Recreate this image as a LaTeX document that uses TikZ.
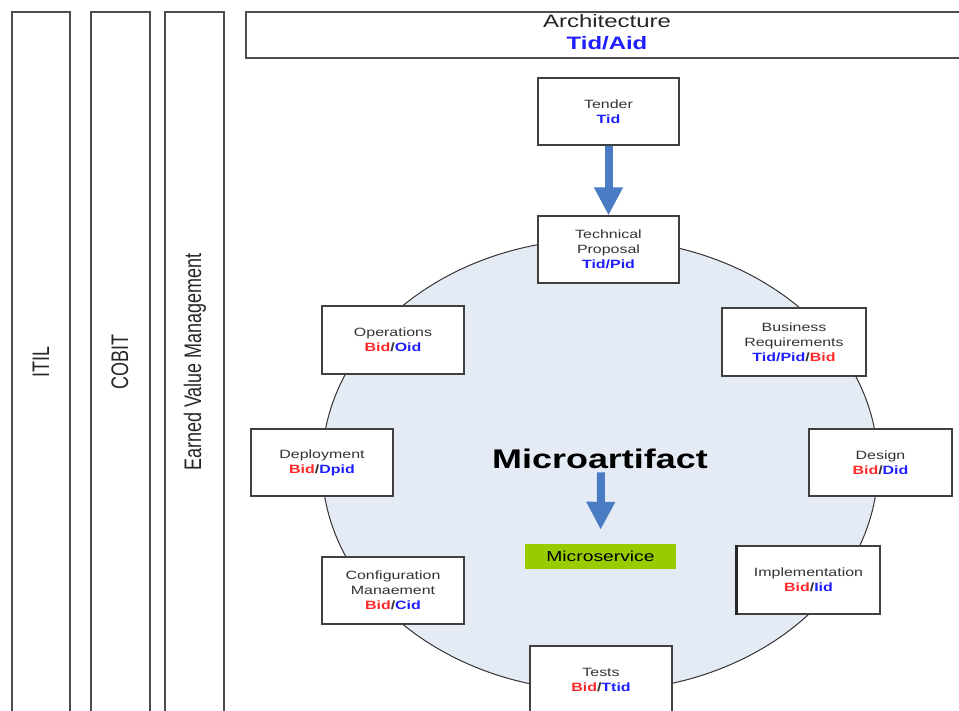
\documentclass[tikz,border=0pt]{standalone}
\usepackage{fontspec}
\setmainfont[FakeStretch=1.33]{Liberation Sans}
\newfontfamily\upsans{Liberation Sans}
\usetikzlibrary{arrows.meta}
\definecolor{idred}{RGB}{255,40,40}
\definecolor{idblue}{RGB}{30,30,255}
\definecolor{flowblue}{RGB}{74,124,196}
\definecolor{cloudfill}{RGB}{229,235,245}
\definecolor{svcgreen}{RGB}{153,204,0}
\newcommand{\redid}[1]{\textcolor{idred}{#1}}
\newcommand{\blueid}[1]{\textcolor{idblue}{#1}}
\begin{document}
\begin{tikzpicture}[x=1pt,y=-1pt,
  phase/.style={rectangle,draw=black!75,line width=1.2pt,fill=white,minimum width=142pt,
    minimum height=67pt,align=center,text=black!80,font=\fontsize{12}{15}\selectfont},
  band/.style={draw=black!70,line width=1.2pt},
  bandlabel/.style={rotate=90,text=black!85,font=\upsans\fontsize{18}{18}\selectfont},
  flow/.style={flowblue,line width=8pt,-{Triangle[width=27pt,length=28pt]}}]
\clip (0,0) rectangle (959,711);
% frameworks on the left
\draw[band] (12,12) rectangle (70,730);
\draw[band] (91,12) rectangle (150,730);
\draw[band] (165,12) rectangle (224,730);
\node[bandlabel] (itil) at (41,362) {\scalebox{1}[1.33]{ITIL}};
\node[bandlabel] (cobit) at (120,362) {\scalebox{1}[1.33]{COBIT}};
\node[bandlabel] (evm) at (195,362) {\scalebox{1}[1.33]{Earned Value Management}};
% architecture
\draw[band] (246,12) rectangle (990,58);
\node[font=\fontsize{18}{18}\selectfont,text=black!85] (arch) at (607,21) {Architecture};
\node[font=\bfseries\fontsize{18}{18}\selectfont,text=idblue] (archid) at (607,43) {Tid/Aid};
% life cycle
\draw[black!80,line width=1pt,fill=cloudfill] (600,465) ellipse [x radius=278pt,y radius=226pt];
\node[phase,minimum width=141pt] (tender) at (608.5,111.5) {Tender\\{\bfseries\blueid{Tid}}};
\node[phase,minimum width=141pt] (prop) at (608.5,249.5) {Technical\\Proposal\\{\bfseries\blueid{Tid/Pid}}};
\node[phase,minimum height=68pt] (ops) at (393,340) {Operations\\{\bfseries\redid{Bid}/\blueid{Oid}}};
\node[phase,minimum width=144pt,minimum height=68pt] (busreq) at (794,342) {Business\\Requirements\\{\bfseries\blueid{Tid/Pid}/\redid{Bid}}};
\node[phase] (deploy) at (322,462.5) {Deployment\\{\bfseries\redid{Bid}/\blueid{Dpid}}};
\node[phase,minimum width=143pt] (design) at (880.5,462.5) {Design\\{\bfseries\redid{Bid}/\blueid{Did}}};
\node[phase] (config) at (393,590.5) {Configuration\\Manaement\\{\bfseries\redid{Bid}/\blueid{Cid}}};
\node[phase,minimum width=143pt,minimum height=68pt] (impl) at (808.5,580) {Implementation\\{\bfseries\redid{Bid}/\blueid{Iid}}};
\draw[black!85,line width=3pt] (impl.north west) -- (impl.south west);
\node[phase] (tests) at (601,679.5) {Tests\\{\bfseries\redid{Bid}/\blueid{Ttid}}};
\draw[flow] (tender.south) -- (prop.north);
% centre
\node[font=\bfseries\fontsize{27}{27}\selectfont] (micro) at (600,459) {Microartifact};
\node[fill=svcgreen,minimum width=151pt,minimum height=25pt,inner sep=0pt,font=\fontsize{14.5}{15}\selectfont] (svc) at (600.5,556.5) {Microservice};
\draw[flow,shorten >=14pt] (micro.south) ++(1,0) -- (svc.north);
\end{tikzpicture}
\end{document}
